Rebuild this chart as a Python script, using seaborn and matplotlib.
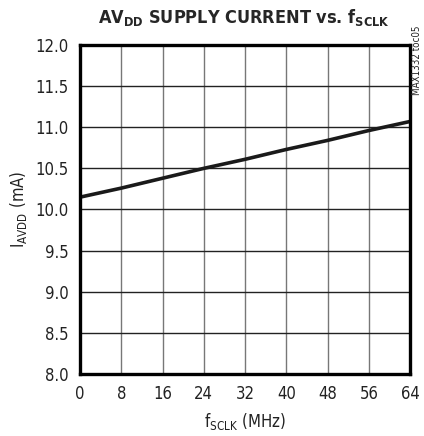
import matplotlib
matplotlib.use('Agg')
import matplotlib.pyplot as plt
import seaborn as sns
import pandas as pd

# данные
f_sclk = [0, 8, 16, 24, 32, 40, 48, 56, 64]
i_avdd = [10.15, 10.26, 10.38, 10.50, 10.61, 10.73, 10.84, 10.96, 11.07]
x_ticks = [0, 8, 16, 24, 32, 40, 48, 56, 64]
y_ticks = [8.0, 8.5, 9.0, 9.5, 10.0, 10.5, 11.0, 11.5, 12.0]

df = pd.DataFrame({'f': f_sclk, 'i': i_avdd})

# узкий шрифт, как в даташите
sns.set_style('white')
plt.rcParams['font.family'] = ['DejaVu Sans']
plt.rcParams['font.stretch'] = 'condensed'
plt.rcParams['mathtext.fontset'] = 'custom'
plt.rcParams['mathtext.rm'] = 'DejaVu Sans:stretch=condensed'
plt.rcParams['mathtext.bf'] = 'DejaVu Sans:bold:stretch=condensed'

fig = plt.figure(figsize=(4.24, 4.36), dpi=100)
ax = fig.add_axes([0.1887, 0.1422, 0.7783, 0.7546])

sns.lineplot(data=df, x='f', y='i', ax=ax, color='#1a1a1a', linewidth=2.6)

ax.set_xlim(0, 64)
ax.set_ylim(8.0, 12.0)
ax.set_xticks(x_ticks)
ax.set_yticks(y_ticks)
ax.set_xticklabels([str(v) for v in x_ticks])
ax.set_yticklabels([f'{v:.1f}' for v in y_ticks])
ax.tick_params(axis='both', length=0, labelsize=12, colors='#222222', pad=8)

# сетка: вертикальные серые, горизонтальные тёмные
ax.xaxis.grid(True, color='#777777', linewidth=1.0)
ax.yaxis.grid(True, color='#222222', linewidth=1.0)
ax.set_axisbelow(True)
for s in ax.spines.values():
    s.set_visible(True)
    s.set_color('black')
    s.set_linewidth(2.4)

ax.set_xlabel(r'f$_{\mathrm{SCLK}}$ (MHz)', fontsize=12, color='#222222', labelpad=6)
ax.set_ylabel(r'I$_{\mathrm{AVDD}}$ (mA)', fontsize=12, color='#222222', labelpad=5)

fig.text(0.574, 0.959, r'AV$_{\mathbf{DD}}$ SUPPLY CURRENT vs. f$_{\mathbf{SCLK}}$',
         ha='center', va='center', fontsize=13, fontweight='bold')
fig.text(0.984, 0.862, 'MAX1332 toc05', rotation=90, ha='center', va='center',
         fontsize=7, color='#222222')

plt.savefig('out.png', dpi=100)
